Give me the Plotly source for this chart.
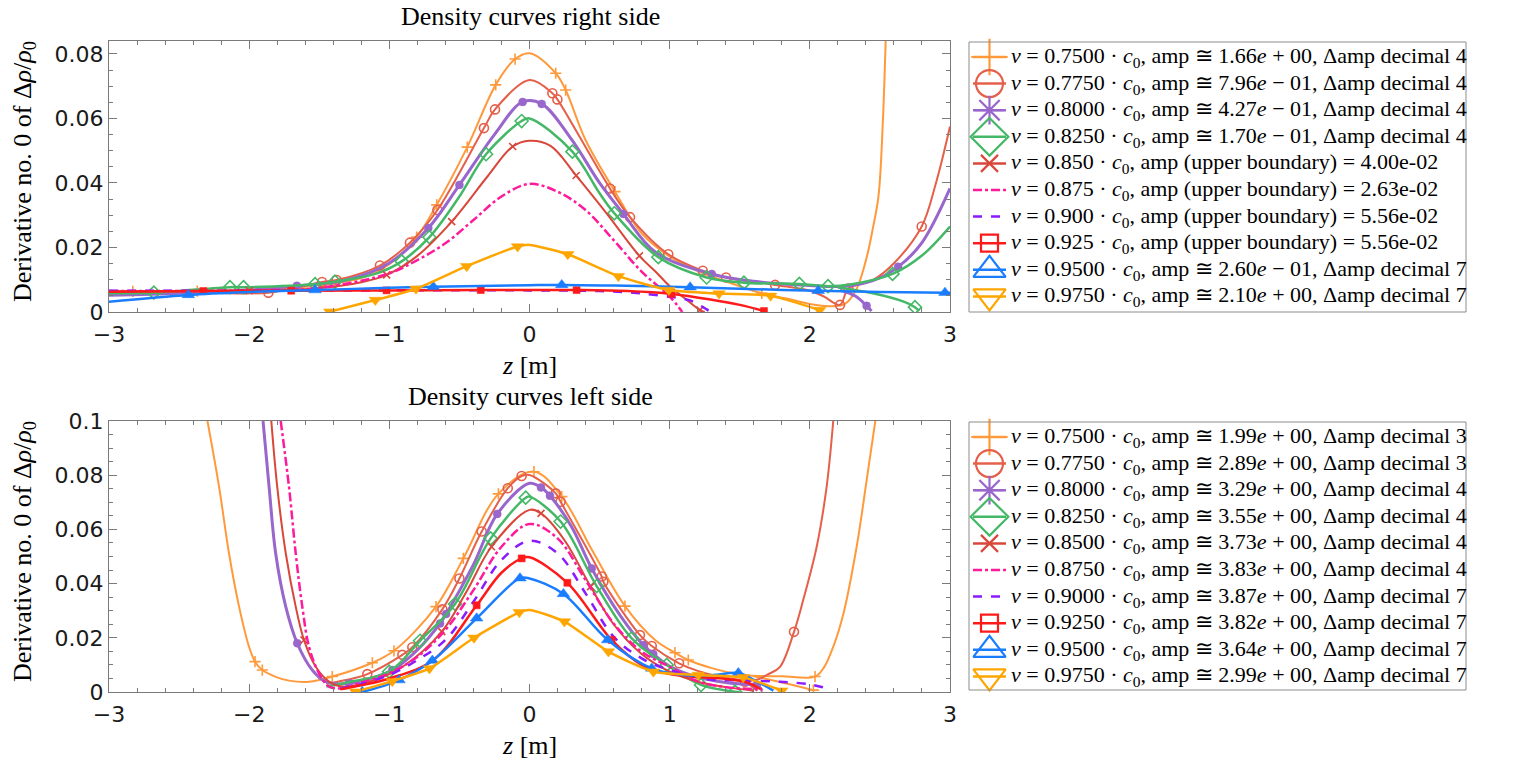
import plotly.graph_objects as go

W, H = 1521, 762

# ---------------- top panel: density curves, right side ----------------
R750_Z = [-3.0, -2.83, -2.37, -2.0, -1.5, -1.2, -1.0, -0.805, -0.662, -0.444, -0.241, -0.103, 0.0, 0.187,
          0.258, 0.4, 0.61, 0.8, 1.0, 1.2, 1.4, 1.657, 1.85, 2.0, 2.15, 2.25, 2.33, 2.40, 2.45, 2.49, 2.52, 2.545]
R750_Y = [0.0063, 0.0064, 0.0065, 0.0067, 0.0083, 0.0105, 0.0148, 0.0232, 0.0332, 0.0511, 0.0704, 0.0784, 0.0802,
          0.0740, 0.0688, 0.0533, 0.0373, 0.0244, 0.0172, 0.0127, 0.0095, 0.0058, 0.0040, 0.0025, 0.0018, 0.0025,
          0.0068, 0.016, 0.026, 0.036, 0.058, 0.09]
R750_MZ = [-2.83, -2.37, -0.805, -0.662, -0.444, -0.241, -0.103, 0.187, 0.258, 0.61, 1.657]

R775_Z = [-3.0, -2.5, -1.863, -1.48, -1.376, -1.067, -0.853, -0.657, -0.325, -0.246, 0.0, 0.163, 0.199, 0.574,
          0.717, 0.99, 1.236, 1.402, 1.752, 2.0, 2.1, 2.215, 2.275, 2.45, 2.6, 2.798, 2.9, 3.0]
R775_Y = [0.0062, 0.0062, 0.0060, 0.0093, 0.0099, 0.0144, 0.0215, 0.0316, 0.0570, 0.0628, 0.0719, 0.0678, 0.0659,
          0.0383, 0.0294, 0.0179, 0.0128, 0.0107, 0.0084, 0.0066, 0.0048, 0.0022, 0.0073, 0.0099, 0.0151, 0.0265,
          0.040, 0.0575]
R775_MZ = [-1.863, -1.48, -1.376, -1.067, -0.853, -0.657, -0.325, -0.246, 0.163, 0.199, 0.574, 0.717, 0.99,
           1.236, 1.402, 1.752, 2.215, 2.275, 2.798]

R800_Z = [-3.0, -2.7, -2.3, -2.0, -1.66, -1.3, -1.0, -0.722, -0.5, -0.25, -0.049, 0.087, 0.3, 0.5, 0.67, 0.9,
          1.30, 1.6, 2.0, 2.25, 2.45, 2.63, 2.8, 3.0, None, 2.215, 2.33, 2.405, 2.44]
R800_Y = [0.0052, 0.0055, 0.0062, 0.0068, 0.0081, 0.0100, 0.0152, 0.0260, 0.0394, 0.0550, 0.0651, 0.0645, 0.0535,
          0.0400, 0.0304, 0.0185, 0.0118, 0.0095, 0.0082, 0.0080, 0.0097, 0.0140, 0.0215, 0.0383, None, 0.0068,
          0.0048, 0.0019, 0.0003]
R800_MZ = [-1.66, -0.722, -0.5, -0.049, 0.087, 0.67, 1.30, 2.63, 2.405]

R825_Z = [-3.0, -2.68, -2.137, -2.04, -1.53, -1.388, -1.1, -0.912, -0.714, -0.5, -0.31, -0.056, 0.0, 0.306, 0.5,
          0.605, 0.919, 1.264, 1.53, 1.925, 2.13, 2.3, 2.59, 2.8, 3.0, None, 2.2, 2.45, 2.67, 2.75, 2.78]
R825_Y = [0.0058, 0.0060, 0.0077, 0.0077, 0.0086, 0.0094, 0.0118, 0.0157, 0.0232, 0.0358, 0.0489, 0.0592, 0.0600,
          0.0497, 0.0368, 0.0306, 0.0170, 0.0107, 0.0091, 0.0087, 0.0080, 0.0086, 0.0118, 0.0175, 0.0265, None,
          0.0076, 0.0058, 0.0032, 0.0015, 0.0003]
R825_MZ = [-2.68, -2.137, -2.04, -1.53, -1.388, -0.912, -0.714, -0.31, -0.056, 0.306, 0.605, 0.919, 1.264, 1.53,
           1.925, 2.13, 2.59, 2.75]

R850_Z = [-3.0, -2.5, -2.0, -1.5, -1.2, -1.019, -0.8, -0.555, -0.3, -0.12, 0.0, 0.15, 0.333, 0.55, 0.784, 0.9,
          1.0, 1.1, 1.216, 1.25]
R850_Y = [0.0064, 0.0064, 0.0066, 0.0074, 0.0092, 0.0115, 0.0174, 0.0280, 0.0420, 0.0513, 0.0531, 0.0515, 0.0423,
          0.0306, 0.0174, 0.0125, 0.0080, 0.0045, 0.0006, 0.0]
R850_MZ = [-2.0, -1.019, -0.555, -0.12, 0.333, 0.784, 1.216]

R875_Z = [-3.0, -2.0, -1.5, -1.0, -0.8, -0.6, -0.4, -0.2, 0.0, 0.2, 0.4, 0.6, 0.8, 1.0, 1.09]
R875_Y = [0.0065, 0.0067, 0.0075, 0.0120, 0.0161, 0.0213, 0.0285, 0.0358, 0.0397, 0.0373, 0.0316, 0.0223, 0.0125,
          0.0048, 0.0]
R875_MZ = []

R900_Z = [-3.0, -2.0, -1.0, 0.0, 0.5, 0.74, 0.836, 1.0, 1.145, 1.264, 1.29]
R900_Y = [0.0066, 0.0066, 0.0067, 0.0067, 0.0065, 0.0060, 0.0056, 0.0047, 0.0036, 0.0008, 0.0]
R900_MZ = []

R925_Z = [-3.0, -2.327, -1.70, -1.02, -0.348, 0.336, 0.7, 1.014, 1.3, 1.5, 1.673]
R925_Y = [0.0063, 0.0065, 0.0066, 0.0067, 0.0068, 0.0068, 0.0065, 0.0056, 0.0038, 0.0022, 0.0003]
R925_MZ = [-2.327, -1.70, -1.02, -0.348, 0.336, 1.014, 1.673]

R950_Z = [-3.0, -2.434, -2.0, -1.53, -1.0, -0.686, 0.0, 0.23, 0.6, 1.146, 1.5, 2.06, 2.5, 2.964, 3.0]
R950_Y = [0.0032, 0.0053, 0.0062, 0.0068, 0.0075, 0.0078, 0.0083, 0.0084, 0.0082, 0.0077, 0.0072, 0.0066, 0.0062,
          0.0060, 0.0060]
R950_MZ = [-2.434, -1.53, -0.686, 0.23, 1.146, 2.06, 2.964]

R975_Z = [-1.424, -1.10, -0.81, -0.448, -0.085, 0.0, 0.273, 0.634, 0.994, 1.352, 1.72, 2.07]
R975_Y = [0.0001, 0.0037, 0.0072, 0.0142, 0.0203, 0.0208, 0.0179, 0.0111, 0.0068, 0.0057, 0.0050, 0.0006]
R975_MZ = [-1.424, -1.10, -0.81, -0.448, -0.085, 0.273, 0.634, 0.994, 1.352, 1.72, 2.07]

# ---------------- bottom panel: density curves, left side ----------------
L750_Z = [-2.299, -2.215, -2.144, -2.072, -2.001, -1.958, -1.906, -1.811, -1.716, -1.573, -1.407, -1.121, -0.967,
          -0.667, -0.472, -0.222, 0.032, 0.23, 0.45, 0.681, 0.9, 1.038, 1.133, 1.3, 1.525, 1.8, 2.037, 2.1, 2.167,
          2.24, 2.334, 2.405, 2.47, None, 1.6, 1.8, 2.025]
L750_Y = [0.1004, 0.0758, 0.0512, 0.0315, 0.0167, 0.0112, 0.0081, 0.0056, 0.0042, 0.0038, 0.0057, 0.0108, 0.0152,
          0.0315, 0.0493, 0.0731, 0.0813, 0.0721, 0.0520, 0.0317, 0.0190, 0.0145, 0.0118, 0.0088, 0.0063, 0.0058,
          0.0057, 0.009, 0.0167, 0.029, 0.0536, 0.078, 0.101, None, 0.0058, 0.0035, 0.0007]
L750_MZ = [-1.958, -1.906, -1.407, -1.121, -0.967, -0.667, -0.472, -0.222, 0.032, 0.23, 0.681, 1.038, 1.133,
           2.037, 2.025]

L775_Z = [-1.45, -1.3, -1.157, -0.907, -0.836, -0.622, -0.5, -0.341, -0.155, -0.056, 0.0, 0.187, 0.222, 0.515,
          0.527, 0.788, 0.872, 1.067, 1.2, 1.35, 1.5, 1.62, 1.7, 1.787, 1.887, 1.953, 2.049, 2.12, 2.167, None,
          1.5, 1.537, 1.6, 1.625]
L775_Y = [0.0030, 0.0045, 0.0066, 0.0137, 0.0165, 0.0305, 0.0419, 0.0592, 0.0752, 0.0797, 0.0801, 0.0733, 0.0702,
          0.0426, 0.0407, 0.0210, 0.0170, 0.0106, 0.0078, 0.0058, 0.0045, 0.0045, 0.0065, 0.0093, 0.0222, 0.034,
          0.0536, 0.0758, 0.100, None, 0.0045, 0.0038, 0.0015, 0.0005]
L775_MZ = [-1.157, -0.907, -0.836, -0.622, -0.5, -0.341, -0.155, -0.056, 0.187, 0.222, 0.515, 0.527, 0.788,
           0.872, 1.067, 1.887, 1.537, 1.625]

L800_Z = [-1.901, -1.858, -1.811, -1.739, -1.657, -1.55, -1.454, -1.288, -0.979, -0.8, -0.638, -0.595, -0.4, -0.23,
          0.0, 0.082, 0.146, 0.3, 0.444, 0.65, 0.812, 0.883, 1.0, 1.2, 1.4, 1.55, 1.621, 1.66]
L800_Y = [0.1, 0.0758, 0.0512, 0.0315, 0.0180, 0.0081, 0.0038, 0.0032, 0.0081, 0.0155, 0.0253, 0.0288, 0.0470,
          0.0657, 0.0770, 0.0755, 0.0724, 0.0610, 0.0456, 0.0280, 0.0173, 0.0140, 0.0095, 0.0055, 0.0035, 0.0028,
          0.0026, 0.0005]
L800_MZ = [-1.657, -1.288, -0.979, -0.638, -0.595, -0.23, 0.082, 0.146, 0.444, 0.812, 0.883, 1.621]

L825_Z = [-1.45, -1.3, -1.002, -0.781, -0.531, -0.277, -0.027, 0.0, 0.222, 0.479, 0.729, 0.979, 1.224, 1.466, 1.5]
L825_Y = [0.0020, 0.0035, 0.0075, 0.0189, 0.0325, 0.0567, 0.0717, 0.0721, 0.0629, 0.0391, 0.0198, 0.0100, 0.0026,
          0.0001, 0.0]
L825_MZ = [-1.002, -0.781, -0.531, -0.277, -0.027, 0.222, 0.479, 0.729, 0.979, 1.224, 1.466]

L850_Z = [-1.842, -1.8, -1.739, -1.668, -1.609, -1.525, -1.43, -1.336, -1.1, -0.9, -0.626, -0.45, -0.271, 0.0,
          0.082, 0.25, 0.436, 0.6, 0.8, 1.0, 1.2, 1.4, 1.6]
L850_Y = [0.1, 0.0758, 0.0512, 0.0315, 0.0192, 0.0093, 0.0038, 0.0020, 0.0045, 0.0095, 0.0223, 0.0370, 0.0536,
          0.0672, 0.0659, 0.0560, 0.0389, 0.0250, 0.0140, 0.0075, 0.0038, 0.0018, 0.0005]
L850_MZ = [-1.609, -0.626, -0.271, 0.082, 0.436]

L875_Z = [-1.775, -1.716, -1.668, -1.621, -1.573, -1.502, -1.43, -1.336, -1.2, -1.0, -0.8, -0.6, -0.4, -0.2, 0.0,
          0.2, 0.4, 0.6, 0.8, 1.0, 1.2, 1.4, 1.657]
L875_Y = [0.1, 0.0758, 0.0512, 0.0315, 0.0167, 0.0069, 0.0020, 0.0014, 0.0035, 0.0069, 0.0130, 0.0229, 0.0376,
          0.0536, 0.0620, 0.0567, 0.0413, 0.0253, 0.0149, 0.0093, 0.0040, 0.0018, 0.0010]
L875_MZ = []

L900_Z = [-1.35, -1.2, -1.0, -0.8, -0.6, -0.4, -0.2, 0.0, 0.2, 0.4, 0.6, 0.8, 1.0, 1.264, 1.5, 1.787, 2.0, 2.12]
L900_Y = [0.0012, 0.0030, 0.0063, 0.0118, 0.0192, 0.0333, 0.0487, 0.0558, 0.0512, 0.0364, 0.0204, 0.0124, 0.0081,
          0.0047, 0.0043, 0.0038, 0.0028, 0.0014]
L900_MZ = []

L925_Z = [-1.35, -1.2, -1.0, -0.686, -0.377, -0.2, -0.056, 0.0, 0.27, 0.586, 0.8, 1.0, 1.2, 1.4, 1.55, 1.65]
L925_Y = [0.0010, 0.0025, 0.0050, 0.0118, 0.0320, 0.0440, 0.0493, 0.0497, 0.0403, 0.0192, 0.0100, 0.0066, 0.0055,
          0.0048, 0.0035, 0.0010]
L925_MZ = [-0.377, -0.056, 0.27, 0.586]

L950_Z = [-1.22, -1.193, -0.931, -0.693, -0.377, -0.068, 0.0, 0.242, 0.558, 0.872, 1.1, 1.3, 1.49, 1.6, 1.74]
L950_Y = [0.0, 0.0001, 0.0044, 0.0116, 0.0272, 0.0420, 0.0419, 0.0362, 0.0192, 0.0087, 0.0062, 0.0062, 0.0070,
          0.0045, 0.0005]
L950_MZ = [-1.193, -0.931, -0.693, -0.377, -0.068, 0.242, 0.558, 0.872, 1.49]

L975_Z = [-1.24, -0.979, -0.714, -0.396, -0.073, 0.0, 0.249, 0.563, 0.884, 1.204, 1.525, 1.799]
L975_Y = [0.0001, 0.0040, 0.0087, 0.0200, 0.0294, 0.0303, 0.0260, 0.0149, 0.0075, 0.0063, 0.0054, 0.0005]
L975_MZ = [-1.24, -0.979, -0.714, -0.396, -0.073, 0.249, 0.563, 0.884, 1.204, 1.525, 1.799]

# ---------------- legend labels ----------------
V_RIGHT = ["0.7500", "0.7750", "0.8000", "0.8250", "0.850", "0.875", "0.900", "0.925", "0.9500", "0.9750"]
AMP_RIGHT = ["1.66", "7.96", "4.27", "1.70", "4.00", "2.63", "5.56", "5.56", "2.60", "2.10"]
EXP_RIGHT = [0, -1, -1, -1, -2, -2, -2, -2, -1, 0]
DEC_RIGHT = [4, 4, 4, 4, None, None, None, None, 7, 7]

V_LEFT = ["0.7500", "0.7750", "0.8000", "0.8250", "0.8500", "0.8750", "0.9000", "0.9250", "0.9500", "0.9750"]
AMP_LEFT = ["1.99", "2.89", "3.29", "3.55", "3.73", "3.83", "3.87", "3.82", "3.64", "2.99"]
EXP_LEFT = [0, 0, 0, 0, 0, 0, 0, 0, 0, 0]
DEC_LEFT = [3, 3, 4, 4, 4, 4, 7, 7, 7, 7]

Y_TICKS_TOP = [0, 0.02, 0.04, 0.06, 0.08]
Y_TICKS_BOTTOM = [0, 0.02, 0.04, 0.06, 0.08, 0.1]
X_TICKS = [-3, -2, -1, 0, 1, 2, 3]

# ---------------- styles ----------------
COLORS = ["#FF9A3C", "#E5604A", "#9966CC", "#45B867", "#D8473A", "#FF1A9B", "#8B1AFF", "#FF1A1A", "#1A7DFF",
          "#FFA500"]
WIDTHS = [2.0, 2.0, 3.0, 2.5, 2.0, 2.5, 2.5, 2.5, 2.5, 2.5]
DASHES = ["solid", "solid", "solid", "solid", "solid", "dashdot", "dash", "solid", "solid", "solid"]
PLOT_SYMBOLS = ["cross-thin-open", "circle-open", "circle", "diamond-open", "x-thin-open", None, None,
                "square", "triangle-up", "triangle-down"]
PLOT_SIZES = [8, 9, 8, 10, 7, 0, 0, 7, 11, 11]
LEG_SYMBOLS = ["cross-thin-open", "circle-open", "asterisk-open", "diamond-open", "x-thin-open", None, None,
               "square-open", "triangle-up-open", "triangle-down-open"]
LEG_SIZES = [26, 27, 24, 29, 17, 0, 0, 17, 28, 28]

SERIF = "Liberation Serif"
SANS = "DejaVu Sans"
AXIS_GREY = "#7a7a7a"

RIGHT = [(R750_Z, R750_Y, R750_MZ), (R775_Z, R775_Y, R775_MZ), (R800_Z, R800_Y, R800_MZ),
         (R825_Z, R825_Y, R825_MZ), (R850_Z, R850_Y, R850_MZ), (R875_Z, R875_Y, R875_MZ),
         (R900_Z, R900_Y, R900_MZ), (R925_Z, R925_Y, R925_MZ), (R950_Z, R950_Y, R950_MZ),
         (R975_Z, R975_Y, R975_MZ)]
LEFT = [(L750_Z, L750_Y, L750_MZ), (L775_Z, L775_Y, L775_MZ), (L800_Z, L800_Y, L800_MZ),
        (L825_Z, L825_Y, L825_MZ), (L850_Z, L850_Y, L850_MZ), (L875_Z, L875_Y, L875_MZ),
        (L900_Z, L900_Y, L900_MZ), (L925_Z, L925_Y, L925_MZ), (L950_Z, L950_Y, L950_MZ),
        (L975_Z, L975_Y, L975_MZ)]


def px(x):
    return x / W


def py(y):
    return 1 - y / H


def pick_markers(zs, ys, mz):
    idx = [zs.index(v) for v in mz]
    return [zs[i] for i in idx], [ys[i] for i in idx]


fig = go.Figure()

for series, xa, ya in ((RIGHT, "x", "y"), (LEFT, "x2", "y2")):
    for k, (zs, ys, mz) in enumerate(series):
        smooth = 0.6 if k == 9 else 1.0
        fig.add_trace(go.Scatter(
            x=zs, y=ys, mode="lines", xaxis=xa, yaxis=ya, showlegend=False, hoverinfo="skip",
            line=dict(color=COLORS[k], width=WIDTHS[k], dash=DASHES[k], shape="spline", smoothing=smooth),
        ))
        if mz:
            mx, my = pick_markers(zs, ys, mz)
            sym = PLOT_SYMBOLS[k]
            filled = not sym.endswith("open")
            fig.add_trace(go.Scatter(
                x=mx, y=my, mode="markers", xaxis=xa, yaxis=ya, showlegend=False, hoverinfo="skip",
                marker=dict(symbol=sym, size=PLOT_SIZES[k], color=COLORS[k],
                            line=dict(color=COLORS[k], width=1.6 if not filled else 0.5)),
            ))


def legend_text(v, m, e, d):
    head = f"<i>v</i> = {v} · <i>c</i><sub>0</sub>, amp "
    if d is None:
        return head + f"(upper boundary) = {m}e-{abs(e):02d}"
    sign = "+" if e >= 0 else "−"
    return head + f"≅ {m}<i>e</i> {sign} {abs(e):02d}, Δamp decimal {d}"


# hand-built legend boxes; icons live on a full-figure overlay axis in pixel units
LEG_BOXES = [(969, 42, 1466, 312, 57.0, V_RIGHT, AMP_RIGHT, EXP_RIGHT, DEC_RIGHT),
             (969, 422, 1466, 690, 437.0, V_LEFT, AMP_LEFT, EXP_LEFT, DEC_LEFT)]
ROW = 26.6
annotations = []
shapes = []
for (x0, y0, x1, y1, first, vs, ms, es, ds) in LEG_BOXES:
    shapes.append(dict(type="rect", xref="paper", yref="paper", x0=px(x0), x1=px(x1), y0=py(y0), y1=py(y1),
                       line=dict(color="#8c8c8c", width=1), fillcolor="rgba(0,0,0,0)", layer="above"))
    for k in range(10):
        yc = first + k * ROW
        fig.add_trace(go.Scatter(
            x=[x0 + 4, x0 + 37], y=[yc, yc], mode="lines", xaxis="x3", yaxis="y3", showlegend=False,
            hoverinfo="skip", line=dict(color=COLORS[k], width=2.5, dash=DASHES[k]),
        ))
        if LEG_SYMBOLS[k]:
            fig.add_trace(go.Scatter(
                x=[x0 + 20.5], y=[yc], mode="markers", xaxis="x3", yaxis="y3", showlegend=False,
                hoverinfo="skip", cliponaxis=False,
                marker=dict(symbol=LEG_SYMBOLS[k], size=LEG_SIZES[k], color=COLORS[k],
                            line=dict(color=COLORS[k], width=2.2)),
            ))
        annotations.append(dict(
            xref="paper", yref="paper", x=px(x0 + 40), y=py(yc), xanchor="left", yanchor="middle",
            text=legend_text(vs[k], ms[k], es[k], ds[k]), showarrow=False,
            font=dict(family=SERIF, size=22, color="black"),
        ))

# panel titles and axis labels
for title, ty, ylab_c, xlab_y in (("Density curves right side", 16, 172, 365),
                                  ("Density curves left side", 396, 552, 745)):
    annotations.append(dict(xref="paper", yref="paper", x=px(530), y=py(ty), xanchor="center",
                            yanchor="middle", text=title, showarrow=False,
                            font=dict(family=SERIF, size=26, color="black")))
    annotations.append(dict(xref="paper", yref="paper", x=px(24), y=py(ylab_c), xanchor="center",
                            yanchor="middle", textangle=-90, showarrow=False,
                            text="Derivative no. 0 of Δ<i>ρ</i>/<i>ρ</i><sub>0</sub>",
                            font=dict(family=SERIF, size=26, color="black")))
    annotations.append(dict(xref="paper", yref="paper", x=px(529), y=py(xlab_y), xanchor="center",
                            yanchor="middle", text="<i>z</i> [m]", showarrow=False,
                            font=dict(family=SERIF, size=26, color="black")))

axis_common = dict(
    showline=True, linecolor=AXIS_GREY, linewidth=1, mirror="allticks", ticks="inside", ticklen=8,
    tickcolor=AXIS_GREY, tickwidth=1, showgrid=False, zeroline=False, automargin=False,
    tickfont=dict(family=SANS, size=22, color="#1a1a1a"),
)
xminor = dict(ticks="inside", dtick=0.2, ticklen=4, tickcolor=AXIS_GREY)
yminor = dict(ticks="inside", dtick=0.005, ticklen=4, tickcolor=AXIS_GREY)
xdom = [px(109), px(950)]
fig.update_layout(
    width=W, height=H, margin=dict(l=0, r=0, t=0, b=0, autoexpand=False),
    paper_bgcolor="white", plot_bgcolor="rgba(0,0,0,0)", showlegend=False,
    xaxis=dict(domain=xdom, range=[-3, 3], tickvals=X_TICKS, anchor="y", minor=xminor, ticklabelstandoff=3,
               **axis_common),
    yaxis=dict(domain=[py(312), py(41)], range=[0, 0.084], tickvals=Y_TICKS_TOP, anchor="x", minor=yminor,
               **axis_common),
    xaxis2=dict(domain=xdom, range=[-3, 3], tickvals=X_TICKS, anchor="y2", minor=xminor, ticklabelstandoff=3,
                **axis_common),
    yaxis2=dict(domain=[py(692), py(421)], range=[0, 0.1], tickvals=Y_TICKS_BOTTOM, anchor="x2", minor=yminor,
                **axis_common),
    xaxis3=dict(domain=[0, 1], range=[0, W], visible=False, anchor="y3", fixedrange=True, automargin=False),
    yaxis3=dict(domain=[0, 1], range=[H, 0], visible=False, anchor="x3", fixedrange=True, automargin=False),
    annotations=annotations, shapes=shapes,
)

fig.write_html("out.html")
